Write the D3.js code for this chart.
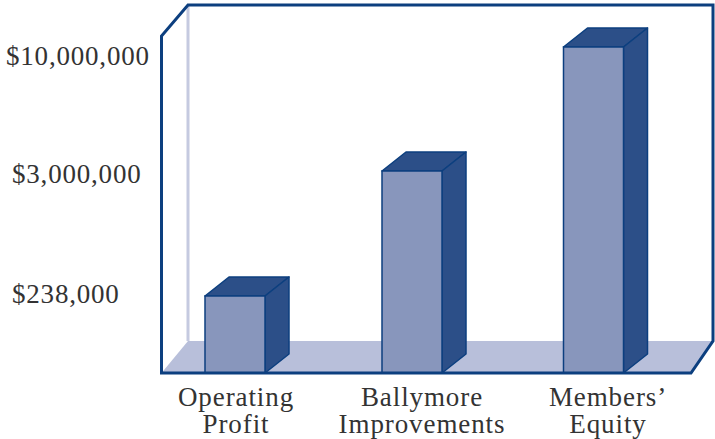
<!DOCTYPE html>
<html>
<head>
<meta charset="utf-8">
<script src="https://cdn.jsdelivr.net/npm/d3@7"></script>
<style>
  html, body { margin: 0; padding: 0; background: #fff; }
  text { font-family: "Liberation Serif", serif; fill: #333; }
</style>
</head>
<body>
<div id="chart"></div>
<script>
const categories = ["Operating Profit", "Ballymore Improvements", "Members' Equity"];
const categoryLines = [["Operating", "Profit"], ["Ballymore", "Improvements"], ["Members\u2019", "Equity"]];
const values = [238000, 3000000, 10000000];
const tickLabels = ["$238,000", "$3,000,000", "$10,000,000"];

const width = 715, height = 439;
const svg = d3.select("#chart").append("svg")
    .attr("width", width)
    .attr("height", height)
    .style("display", "block");

// the value axis of the original is not linear, so each tick has its own stop
const y = d3.scaleLinear().domain([0].concat(values)).range([373, 296, 171, 47]);
const x = d3.scaleOrdinal().domain(categories).range([205, 382, 563.5]);
const xLabel = d3.scaleOrdinal().domain(categories).range([236, 422, 608]);
const tickX = d3.scaleOrdinal().domain(values).range([12, 12, 6]);
const tickY = d3.scaleOrdinal().domain(values).range([303, 183, 65]);

const barWidth = 60, dx = 24, dy = 19;
const navy = "#0c3f7f", dark = "#2c4f88", front = "#8896bc", floorColor = "#b8bfda";

// floor and back wall
const frame = {left: 161.5, right: 691, top: 36, bottom: 373, backX: 188, backTop: 5, backRight: 713, backBottom: 341};
svg.append("polygon")
    .attr("points", [[frame.left, frame.bottom], [frame.backX, frame.backBottom], [frame.backRight, frame.backBottom], [frame.right, frame.bottom]].join(" "))
    .attr("fill", floorColor);
svg.append("line")
    .attr("x1", frame.backX).attr("x2", frame.backX)
    .attr("y1", frame.backTop).attr("y2", frame.backBottom)
    .attr("stroke", "#c5cae0")
    .attr("stroke-width", 3);

// the bars
const bars = svg.selectAll(".bar")
  .data(categories)
  .join("g")
    .attr("class", "bar");

bars.append("polygon")
    .attr("points", (d, i) => {
      const x0 = x(d), y0 = y(values[i]);
      return [[x0, y0], [x0 + dx, y0 - dy], [x0 + barWidth + dx, y0 - dy], [x0 + barWidth, y0]].join(" ");
    })
    .attr("fill", dark)
    .attr("stroke", navy)
    .attr("stroke-width", 1.5)
    .attr("stroke-linejoin", "round");

bars.append("polygon")
    .attr("points", (d, i) => {
      const x1 = x(d) + barWidth, y0 = y(values[i]);
      return [[x1, y0], [x1 + dx, y0 - dy], [x1 + dx, y(0) - dy], [x1, y(0)]].join(" ");
    })
    .attr("fill", dark)
    .attr("stroke", navy)
    .attr("stroke-width", 1.5)
    .attr("stroke-linejoin", "round");

bars.append("rect")
    .attr("x", d => x(d))
    .attr("y", (d, i) => y(values[i]))
    .attr("width", barWidth)
    .attr("height", (d, i) => y(0) - y(values[i]))
    .attr("fill", front)
    .attr("stroke", navy)
    .attr("stroke-width", 1.5);

// frame on top of the floor and the bars
svg.append("path")
    .attr("d", `M${frame.left},${frame.bottom}V${frame.top}L${frame.backX},${frame.backTop}H${frame.backRight}V${frame.backBottom}L${frame.right},${frame.bottom}Z`)
    .attr("fill", "none")
    .attr("stroke", navy)
    .attr("stroke-width", 3)
    .attr("stroke-linejoin", "miter");

// value labels
svg.selectAll(".tick-label")
  .data(values)
  .join("text")
    .attr("class", "tick-label")
    .attr("x", d => tickX(d))
    .attr("y", d => tickY(d))
    .attr("font-size", 27)
    .attr("letter-spacing", 0.8)
    .text((d, i) => tickLabels[i]);

// category labels, two lines each
const labels = svg.selectAll(".cat-label")
  .data(categories)
  .join("text")
    .attr("class", "cat-label")
    .attr("text-anchor", "middle")
    .attr("font-size", 27)
    .attr("letter-spacing", 0.9);

labels.selectAll("tspan")
  .data((d, i) => categoryLines[i].map(line => ({line, cat: d})))
  .join("tspan")
    .attr("x", d => xLabel(d.cat))
    .attr("y", (d, i) => 406 + i * 27)
    .text(d => d.line);
</script>
</body>
</html>
